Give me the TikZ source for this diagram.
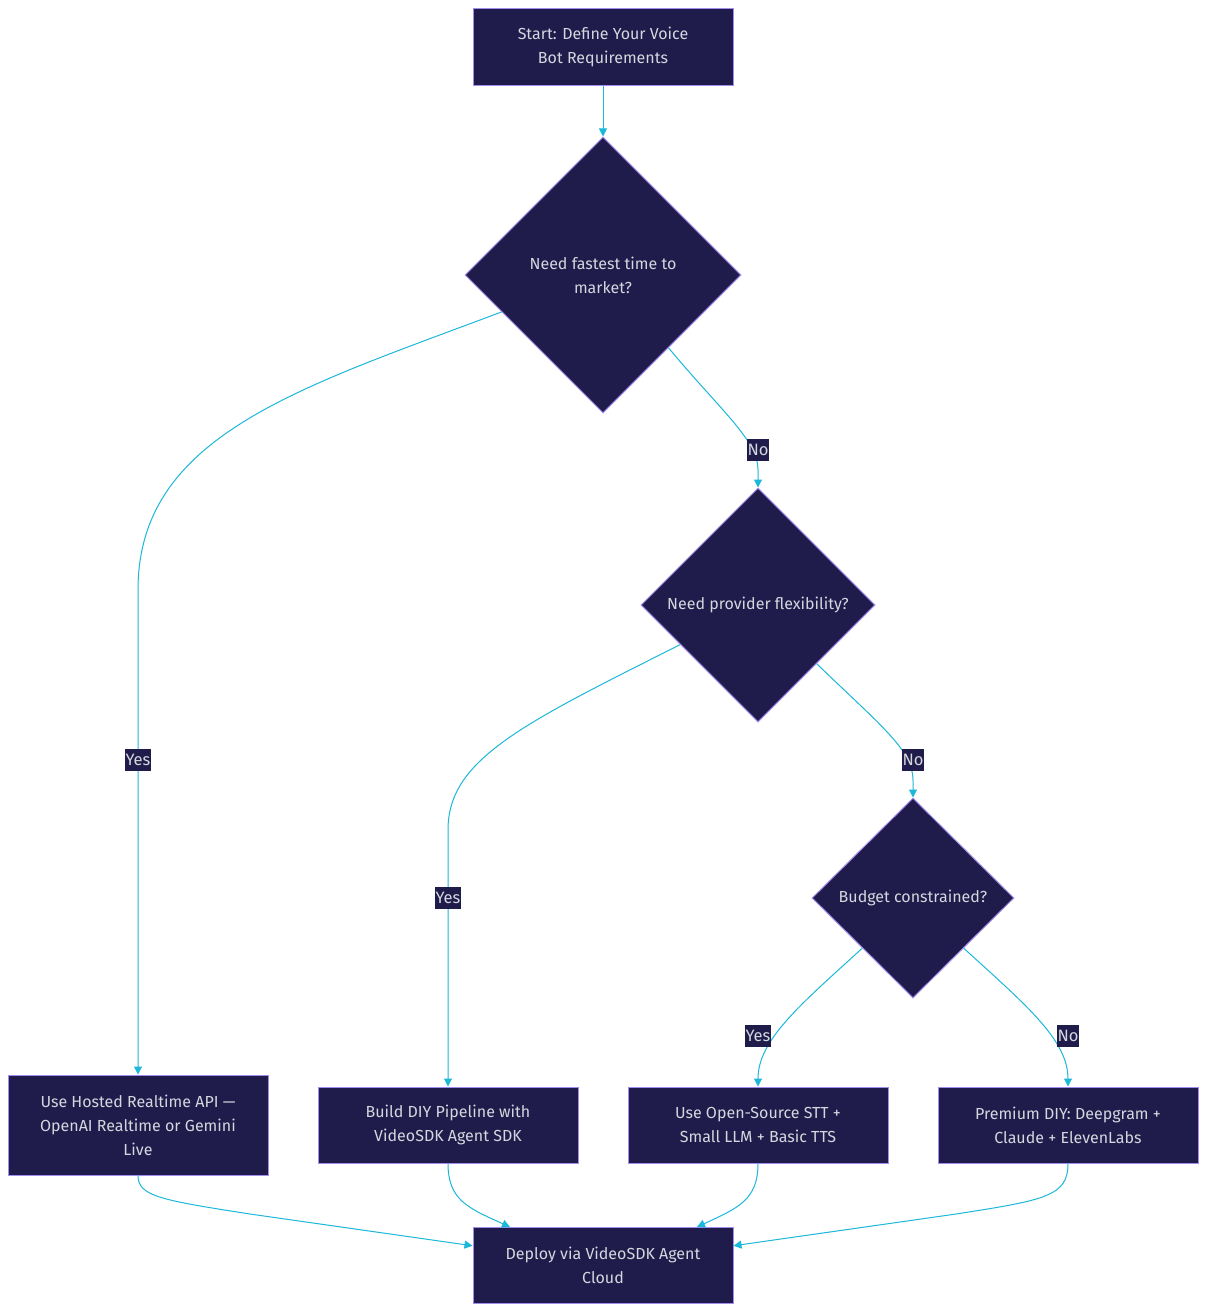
\documentclass[tikz,border=0pt]{standalone}
\usepackage{fontspec}
\setmainfont{Fira Sans}
\usetikzlibrary{shapes.geometric,arrows.meta,calc}
\definecolor{nodefill}{HTML}{1F1C4B}
\definecolor{nodeborder}{HTML}{A38CF0}
\definecolor{nodetext}{HTML}{D6D6DE}
\definecolor{edgecol}{HTML}{1CB8DA}
\tikzset{
  box/.style={rectangle, draw=nodeborder, fill=nodefill, line width=1pt, text=nodetext,
    minimum width=260pt, minimum height=76pt, align=center, inner sep=2pt,
    font=\fontsize{16}{24}\selectfont},
  choice/.style={diamond, draw=nodeborder, fill=nodefill, line width=1pt, text=nodetext,
    align=center, inner sep=1pt, aspect=1, font=\fontsize{16}{24}\selectfont},
  edge/.style={draw=edgecol, line width=1pt, -{Triangle[width=8pt,length=8pt]}},
  lab/.style={fill=nodefill, text=nodetext, inner xsep=1pt, inner ysep=0pt,
    minimum height=22pt, font=\fontsize{16.5}{20}\selectfont}
}
\begin{document}
\begin{tikzpicture}[x=1pt,y=-1pt]
\useasboundingbox (0,0) rectangle (1206,1312);
\fill[white] (0,0) rectangle (1206,1312);

\node[box, minimum height=77pt] (start) at (603,46.5) {Start: Define Your Voice\\Bot Requirements};
\node[choice, minimum width=276pt, minimum height=276pt] (d1) at (603,275) {Need fastest time to\\market?};
\node[choice, minimum width=234pt, minimum height=234pt] (d2) at (758,605) {Need provider flexibility?};
\node[choice, minimum width=202pt, minimum height=200pt] (d3) at (913,898) {Budget constrained?};
\node[box, minimum height=100pt] (hosted) at (138,1125) {Use Hosted Realtime API —\\OpenAI Realtime or Gemini\\Live};
\node[box] (build) at (448,1125) {Build DIY Pipeline with\\VideoSDK Agent SDK};
\node[box] (open) at (758,1125) {Use Open-Source STT +\\Small LLM + Basic TTS};
\node[box] (prem) at (1068,1125) {Premium DIY: Deepgram +\\Claude + ElevenLabs};
\node[box] (deploy) at (603,1265) {Deploy via VideoSDK Agent\\Cloud};

\coordinate (c1) at (138,590);
\coordinate (c2) at (758,470);
\coordinate (c3) at (448,830);
\coordinate (c4) at (913,780);
\coordinate (dl) at ($(deploy.north west)!0.25!(deploy.south west)$);
\coordinate (dr) at ($(deploy.north east)!0.25!(deploy.south east)$);
\coordinate (dtl) at (510,1227);
\coordinate (dtr) at (697,1227);
\coordinate (hl) at (250,1214);
\coordinate (hr) at (956,1214);

\draw[edge] (start) -- (d1);
\draw[edge] (d1.200) .. controls (300,388) and (138,435) .. (c1) -- (hosted.north);
\draw[edge] (d1.-48) .. controls (720,410) and (758,440) .. (c2) -- (d2.north);
\draw[edge] (d2.207) .. controls (520,725) and (448,760) .. (c3) -- (build.north);
\draw[edge] (d2.south east) .. controls (880,725) and (913,750) .. (c4) -- (d3.north);
\draw[edge] (d3.south west) .. controls (800,1005) and (758,1040) .. (open.north);
\draw[edge] (d3.south east) .. controls (1026,1005) and (1068,1040) .. (prem.north);
\draw[edge] (hosted.south) .. controls (138,1196) and (160,1200) .. (hl) -- (dl);
\draw[edge] (build.south) .. controls (448,1200) and (468,1208) .. (dtl);
\draw[edge] (open.south) .. controls (758,1200) and (738,1208) .. (dtr);
\draw[edge] (prem.south) .. controls (1068,1196) and (1046,1200) .. (hr) -- (dr);

\node[lab] (l1) at (138,760) {Yes};
\node[lab] (l2) at (758,450) {No};
\node[lab] (l3) at (448,898) {Yes};
\node[lab] (l4) at (913,760) {No};
\node[lab] (l5) at (758,1036) {Yes};
\node[lab] (l6) at (1068,1036) {No};
\end{tikzpicture}
\end{document}
